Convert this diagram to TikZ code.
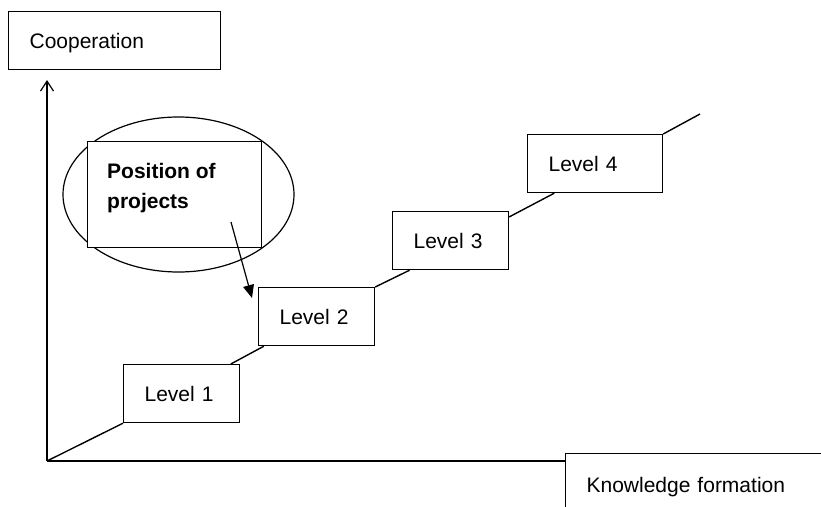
\documentclass[tikz,border=0pt]{standalone}
\usepackage{fontspec}
\setmainfont{Liberation Sans}
\usetikzlibrary{arrows.meta,shapes.geometric,calc}
\begin{document}
\begin{tikzpicture}[x=1pt,y=-1pt,
  labelbox/.style={draw, line width=1.2pt, fill=white, rectangle, anchor=north west,
    inner xsep=21pt, inner ysep=0pt, align=left, text height=15pt, text depth=0pt,
    minimum height=58pt, font=\fontsize{21}{30}\selectfont},
  stepline/.style={line width=1.4pt},
  axis/.style={line width=1.4pt, -{Straight Barb[length=10pt,width=13pt,line width=1.2pt]}}
]
\useasboundingbox (0,0) rectangle (821,506);
% axes
\coordinate (o) at (47,461);
\coordinate (ytip) at (47,80);
\coordinate (xtip) at (737,461);
\draw[axis] (o) -- (ytip);
\draw[axis] (o) -- (xtip);
% ellipse and position box
\node[draw, ellipse, line width=1.2pt, minimum width=231pt, minimum height=155pt, inner sep=0pt] (ell) at (178.5,194.5) {};
\node[draw, line width=1.2pt, fill=white, rectangle, anchor=north west, minimum width=174pt, minimum height=106pt, inner sep=0pt] (pos) at (87,141) {};
\node[anchor=base west, inner sep=0pt, align=left, font=\fontsize{21}{30}\selectfont\bfseries] (postext) at (107,208) {Position of\\projects};
% level boxes
\node[labelbox, text width=170pt] (coop) at (8,11) {Cooperation};
\node[labelbox, text width=74pt] (l1) at (123,364) {Level 1};
\node[labelbox, text width=74pt] (l2) at (258,287) {Level 2};
\node[labelbox, text width=74pt] (l3) at (392,211) {Level 3};
\node[labelbox, text width=93pt] (l4) at (527,134) {Level 4};
\node[labelbox, text width=238pt, minimum height=62pt] (know) at (565,453) {Knowledge formation};
% step line
\coordinate (end) at (700,114);
\draw[stepline] (o) -- (l1.south west);
\draw[stepline] ($(l1.north west)!0.92!(l1.north east)$) -- ($(l2.south west)!0.05!(l2.south east)$);
\draw[stepline] (l2.north east) -- ($(l3.south west)!0.15!(l3.south east)$);
\draw[stepline] ($(l3.north east)!0.1!(l3.south east)$) -- ($(l4.south west)!0.2!(l4.south east)$);
\draw[stepline] (l4.north east) -- (end);
% arrow
\coordinate (arrend) at (252,298);
\draw[line width=1.2pt, -{Triangle[length=13pt,width=11pt]}] (231,222) -- (arrend);
\end{tikzpicture}
\end{document}
